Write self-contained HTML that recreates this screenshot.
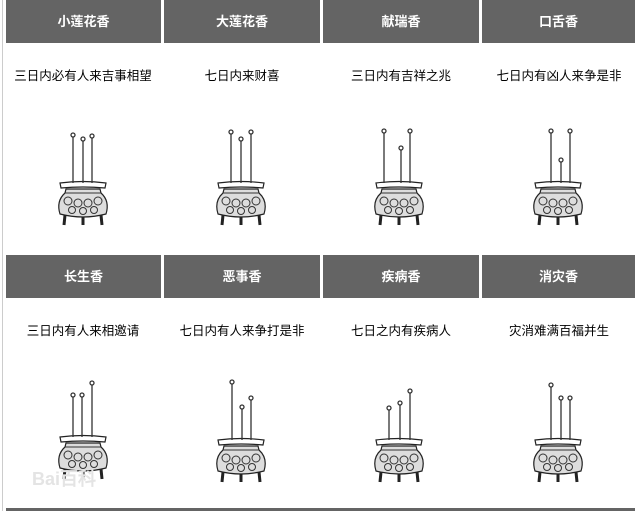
<!DOCTYPE html>
<html><head><meta charset="utf-8"><style>
body{margin:0;width:639px;height:511px;background:#fff;position:relative;overflow:hidden;font-family:"Liberation Sans","Noto Sans CJK SC",sans-serif}
.h{position:absolute;background:#646464;color:#fff;font-weight:bold;font-size:13px;text-align:center;line-height:43px;height:43px}
.t{position:absolute;font-size:12.5px;color:#000;text-align:center;width:156px}
.vl{position:absolute;left:2px;top:0;width:1px;height:511px;background:#ccc}
svg{position:absolute;left:0;top:0}
</style></head><body>
<div class="vl"></div>
<div class="h" style="left:6px;top:0;width:155px">小莲花香</div>
<div class="h" style="left:164px;top:0;width:156px">大莲花香</div>
<div class="h" style="left:323px;top:0;width:156px">献瑞香</div>
<div class="h" style="left:482px;top:0;width:153px">口舌香</div>
<div class="h" style="left:6px;top:255px;width:155px">长生香</div>
<div class="h" style="left:164px;top:255px;width:156px">恶事香</div>
<div class="h" style="left:323px;top:255px;width:156px">疾病香</div>
<div class="h" style="left:482px;top:255px;width:153px">消灾香</div>
<div style="position:absolute;left:6px;top:508px;width:629px;height:3px;background:#646464"></div>
<div class="t" style="left:5px;top:65px">三日内必有人来吉事相望</div>
<div class="t" style="left:164px;top:65px">七日内来财喜</div>
<div class="t" style="left:323px;top:65px">三日内有吉祥之兆</div>
<div class="t" style="left:481px;top:65px">七日内有凶人来争是非</div>
<div class="t" style="left:5px;top:320px">三日内有人来相邀请</div>
<div class="t" style="left:164px;top:320px">七日内有人来争打是非</div>
<div class="t" style="left:323px;top:320px">七日之内有疾病人</div>
<div class="t" style="left:481px;top:320px">灾消难满百福并生</div>
<svg width="639" height="511">
<defs>
<g id="b">
<path d="M-23,0 Q0,-3 23,0 L22,5 Q0,3 -22,5 Z" fill="#fff" stroke="#222" stroke-width="1.2"/>
<path d="M-17,6 L17,6 L18,10 Q27,18 23,31 Q0,37 -23,31 Q-27,18 -18,10Z" fill="#ddd" stroke="#222" stroke-width="1.2"/>
<g fill="none" stroke="#333" stroke-width="1">
<line x1="-18" y1="10" x2="18" y2="10"/>
<circle cx="-15" cy="18" r="4"/><circle cx="-5" cy="20" r="4"/><circle cx="5" cy="20" r="4"/><circle cx="15" cy="18" r="4"/>
<circle cx="-11" cy="27" r="3.5"/><circle cx="0" cy="28" r="3.5"/><circle cx="11" cy="27" r="3.5"/>
</g>
<path d="M-18,32 L-19,42 M0,34 L0,42 M18,32 L19,42" stroke="#222" stroke-width="3"/>
</g>
</defs>
<g stroke="#333" stroke-width="1.3" fill="#fff">
<use href="#b" x="83" y="183"/>
<line x1="73" y1="137" x2="73" y2="183"/><circle cx="73" cy="135" r="2"/>
<line x1="83" y1="141" x2="83" y2="183"/><circle cx="83" cy="139" r="2"/>
<line x1="92" y1="138" x2="92" y2="183"/><circle cx="92" cy="136" r="2"/>
<use href="#b" x="241" y="183"/>
<line x1="231" y1="134" x2="231" y2="183"/><circle cx="231" cy="132" r="2"/>
<line x1="241" y1="141" x2="241" y2="183"/><circle cx="241" cy="139" r="2"/>
<line x1="251" y1="134" x2="251" y2="183"/><circle cx="251" cy="132" r="2"/>
<use href="#b" x="399" y="183"/>
<line x1="384" y1="133" x2="384" y2="183"/><circle cx="384" cy="131" r="2"/>
<line x1="401" y1="150" x2="401" y2="183"/><circle cx="401" cy="148" r="2"/>
<line x1="410" y1="133" x2="410" y2="183"/><circle cx="410" cy="131" r="2"/>
<use href="#b" x="558" y="183"/>
<line x1="551" y1="133" x2="551" y2="183"/><circle cx="551" cy="131" r="2"/>
<line x1="561" y1="162" x2="561" y2="183"/><circle cx="561" cy="160" r="2"/>
<line x1="570" y1="133" x2="570" y2="183"/><circle cx="570" cy="131" r="2"/>
<use href="#b" x="83" y="437"/>
<line x1="73" y1="397" x2="73" y2="437"/><circle cx="73" cy="395" r="2"/>
<line x1="82" y1="397" x2="82" y2="437"/><circle cx="82" cy="395" r="2"/>
<line x1="92" y1="385" x2="92" y2="437"/><circle cx="92" cy="383" r="2"/>
<use href="#b" x="241" y="440"/>
<line x1="232" y1="384" x2="232" y2="440"/><circle cx="232" cy="382" r="2"/>
<line x1="242" y1="409" x2="242" y2="440"/><circle cx="242" cy="407" r="2"/>
<line x1="251" y1="400" x2="251" y2="440"/><circle cx="251" cy="398" r="2"/>
<use href="#b" x="399" y="440"/>
<line x1="389" y1="410" x2="389" y2="440"/><circle cx="389" cy="408" r="2"/>
<line x1="400" y1="405" x2="400" y2="440"/><circle cx="400" cy="403" r="2"/>
<line x1="410" y1="393" x2="410" y2="440"/><circle cx="410" cy="391" r="2"/>
<use href="#b" x="558" y="440"/>
<line x1="551" y1="387" x2="551" y2="440"/><circle cx="551" cy="385" r="2"/>
<line x1="561" y1="400" x2="561" y2="440"/><circle cx="561" cy="398" r="2"/>
<line x1="570" y1="400" x2="570" y2="440"/><circle cx="570" cy="398" r="2"/>
</g>
<text x="32" y="485" font-family="Liberation Sans" font-size="18" font-weight="bold" fill="#e4e4e4">Bai百科</text>
</svg>
</body></html>
